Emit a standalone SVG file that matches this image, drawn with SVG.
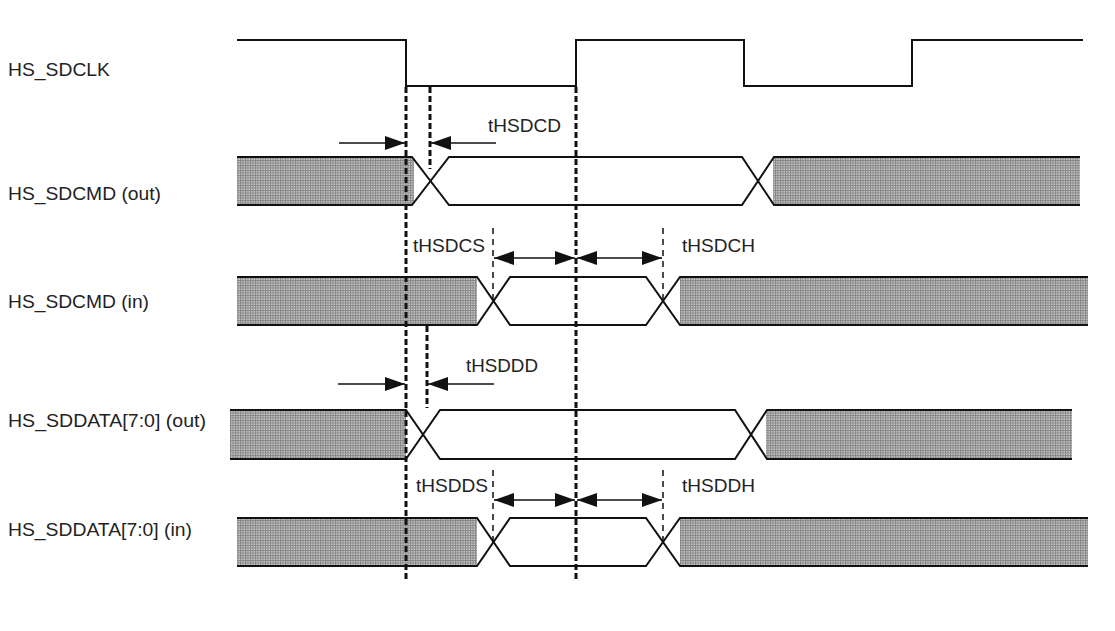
<svg xmlns="http://www.w3.org/2000/svg" width="1115" height="631" viewBox="0 0 1115 631">
<defs>
<pattern id="hatch" patternUnits="userSpaceOnUse" width="2.5" height="2.5">
<rect width="2.5" height="2.5" fill="#cdcdcd"/>
<rect width="2.5" height="1" fill="#858585"/>
<rect width="1" height="2.5" fill="#858585"/>
</pattern>
<marker id="ah" markerUnits="userSpaceOnUse" markerWidth="21" markerHeight="15" refX="20" refY="7" orient="auto-start-reverse" viewBox="0 0 21 15" overflow="visible">
<path d="M0,0 L20,7 L0,14 Z" fill="#111"/>
</marker>
<style>
.sig{fill:none;stroke:#111;stroke-width:2;stroke-linejoin:miter}
.hz{fill:url(#hatch);stroke:none}
.lbl{font-family:"Liberation Sans",Arial,sans-serif;font-size:17.5px;fill:#222}
.dT{fill:none;stroke:#111;stroke-width:3;stroke-dasharray:6 3}
.dt{fill:none;stroke:#111;stroke-width:1.5;stroke-dasharray:6 5}
.ar{fill:none;stroke:#111;stroke-width:1.7}
</style>
</defs>
<rect width="1115" height="631" fill="#fff"/>

<g id="clk">
<text class="lbl" x="8" y="76" textLength="102" lengthAdjust="spacingAndGlyphs">HS_SDCLK</text>
<path class="sig" d="M237,40 H406 V86 H576 V40 H744 V86 H912 V40 H1083"/>
</g>

<g id="cmd-out">
<text class="lbl" x="8" y="200" textLength="153" lengthAdjust="spacingAndGlyphs">HS_SDCMD (out)</text>
<rect class="hz" x="237" y="158" width="177" height="46"/>
<rect class="hz" x="773" y="158" width="307" height="46"/>
<path class="sig" d="M237,157 H412 L449,205 H742 L774,157 H1080"/>
<path class="sig" d="M237,205 H412 L449,157 H742 L774,205 H1080"/>
</g>

<g id="cmd-in">
<text class="lbl" x="8" y="308" textLength="141" lengthAdjust="spacingAndGlyphs">HS_SDCMD (in)</text>
<rect class="hz" x="237" y="278" width="240" height="46"/>
<rect class="hz" x="680" y="278" width="408" height="46"/>
<path class="sig" d="M237,277 H477 L510,325 H646 L680,277 H1088"/>
<path class="sig" d="M237,325 H477 L510,277 H646 L680,325 H1088"/>
</g>

<g id="data-out">
<text class="lbl" x="8" y="427" textLength="198" lengthAdjust="spacingAndGlyphs">HS_SDDATA[7:0] (out)</text>
<rect class="hz" x="230" y="411" width="176" height="47"/>
<rect class="hz" x="766" y="411" width="306" height="47"/>
<path class="sig" d="M230,410 H406 L440,459 H735 L767,410 H1072"/>
<path class="sig" d="M230,459 H406 L440,410 H735 L767,459 H1072"/>
</g>

<g id="data-in">
<text class="lbl" x="8" y="536" textLength="184" lengthAdjust="spacingAndGlyphs">HS_SDDATA[7:0] (in)</text>
<rect class="hz" x="237" y="519" width="240" height="46"/>
<rect class="hz" x="680" y="519" width="408" height="46"/>
<path class="sig" d="M237,518 H477 L510,566 H646 L680,518 H1088"/>
<path class="sig" d="M237,566 H477 L510,518 H646 L680,566 H1088"/>
</g>

<g id="connectors">
<line class="dT" x1="406" y1="87" x2="406" y2="579"/>
<line class="dT" x1="576" y1="87" x2="576" y2="579"/>
<line class="dT" x1="430" y1="87" x2="430" y2="169"/>
<line class="dT" x1="427" y1="326" x2="427" y2="408"/>
<line class="dt" x1="493" y1="228" x2="493" y2="301"/>
<line class="dt" x1="663" y1="228" x2="663" y2="301"/>
<line class="dt" x1="493" y1="470" x2="493" y2="542"/>
<line class="dt" x1="663" y1="470" x2="663" y2="542"/>

<line class="ar" x1="339" y1="143" x2="405" y2="143" marker-end="url(#ah)"/>
<line class="ar" x1="496" y1="143" x2="431" y2="143" marker-end="url(#ah)"/>
<line class="ar" x1="338" y1="384" x2="405" y2="384" marker-end="url(#ah)"/>
<line class="ar" x1="494" y1="384" x2="428" y2="384" marker-end="url(#ah)"/>
<line class="ar" x1="494" y1="258" x2="575" y2="258" marker-start="url(#ah)" marker-end="url(#ah)"/>
<line class="ar" x1="577" y1="258" x2="662" y2="258" marker-start="url(#ah)" marker-end="url(#ah)"/>
<line class="ar" x1="494" y1="500" x2="575" y2="500" marker-start="url(#ah)" marker-end="url(#ah)"/>
<line class="ar" x1="577" y1="500" x2="662" y2="500" marker-start="url(#ah)" marker-end="url(#ah)"/>

<text class="lbl" x="488" y="132" textLength="73" lengthAdjust="spacingAndGlyphs">tHSDCD</text>
<text class="lbl" x="413" y="252" textLength="72" lengthAdjust="spacingAndGlyphs">tHSDCS</text>
<text class="lbl" x="682" y="252" textLength="73" lengthAdjust="spacingAndGlyphs">tHSDCH</text>
<text class="lbl" x="466" y="372" textLength="72" lengthAdjust="spacingAndGlyphs">tHSDDD</text>
<text class="lbl" x="416" y="492" textLength="72" lengthAdjust="spacingAndGlyphs">tHSDDS</text>
<text class="lbl" x="682" y="492" textLength="73" lengthAdjust="spacingAndGlyphs">tHSDDH</text>
</g>
</svg>
